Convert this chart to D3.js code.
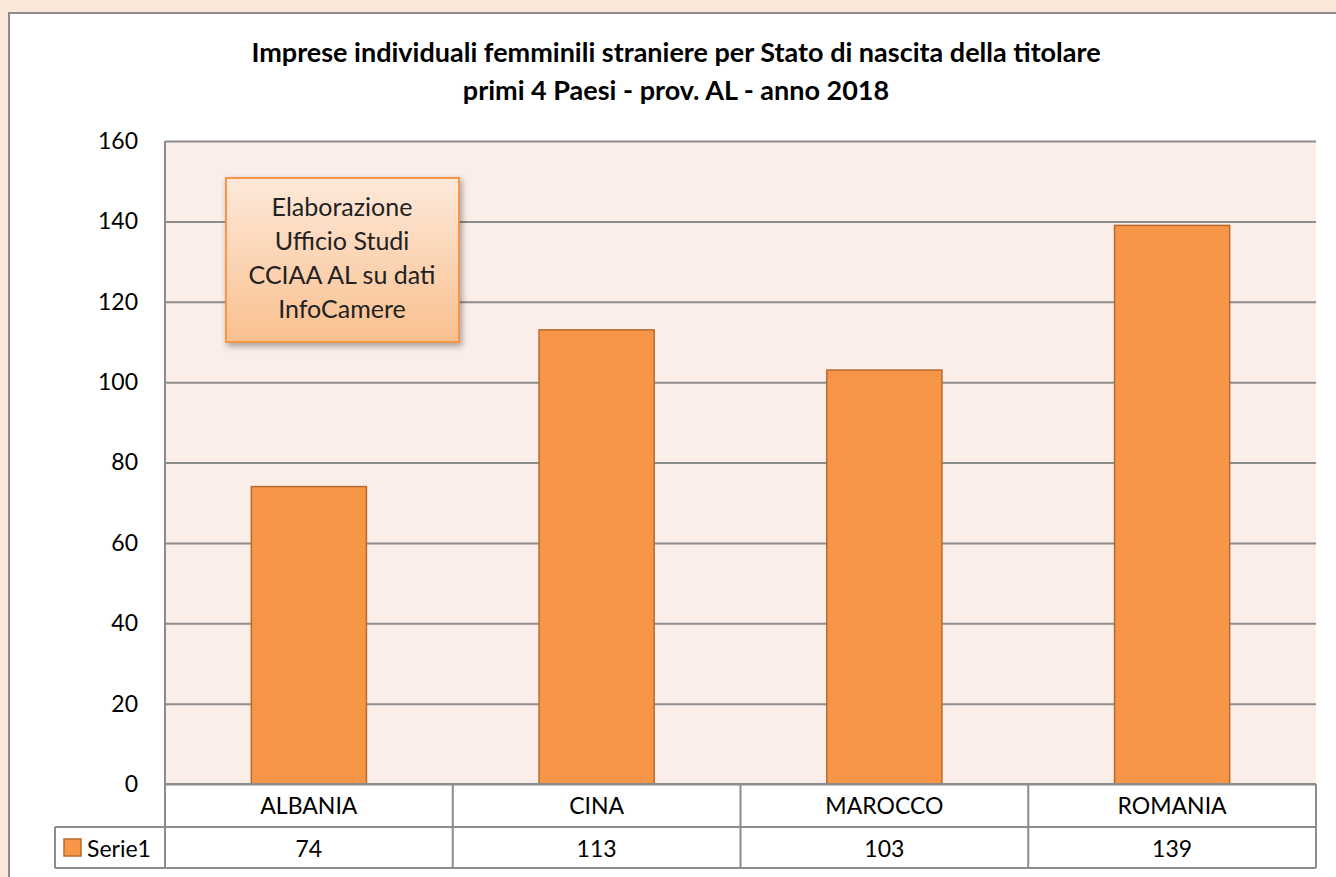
<!DOCTYPE html>
<html>
<head>
<meta charset="utf-8">
<script src="https://cdn.jsdelivr.net/npm/d3@7"></script>
<style>
  html, body { margin: 0; padding: 0; background: #FCE8DB; }
  svg { display: block; font-family: Lato, "Open Sans", sans-serif; }
</style>
</head>
<body>
<script>
// data
var categories = ['ALBANIA', 'CINA', 'MAROCCO', 'ROMANIA'];
var values = [74, 113, 103, 139];
var seriesName = 'Serie1';
var yTicks = [0, 20, 40, 60, 80, 100, 120, 140, 160];
var titleLines = [
  'Imprese individuali femminili straniere per Stato di nascita della titolare',
  'primi 4 Paesi - prov. AL - anno 2018'
];
var noteLines = ['Elaborazione', 'Ufficio Studi', 'CCIAA AL su dati', 'InfoCamere'];

var width = 1336, height = 877;
var plot = { left: 165, right: 1316, top: 141, bottom: 784 };
var rowH = [43, 41];

var svg = d3.select('body').append('svg')
  .attr('width', width)
  .attr('height', height);

var defs = svg.append('defs');
var grad = defs.append('linearGradient')
  .attr('id', 'noteGrad')
  .attr('x1', 0).attr('y1', 0).attr('x2', 0).attr('y2', 1);
grad.append('stop').attr('offset', '0%').attr('stop-color', '#FDE9DA');
grad.append('stop').attr('offset', '100%').attr('stop-color', '#FAC08F');

var shadow = defs.append('filter').attr('id', 'shadow')
  .attr('x', '-10%').attr('y', '-10%').attr('width', '130%').attr('height', '130%');
shadow.append('feDropShadow')
  .attr('dx', 2).attr('dy', 3).attr('stdDeviation', 3)
  .attr('flood-color', '#000').attr('flood-opacity', 0.35);

// chart frame
svg.append('rect')
  .attr('x', 9).attr('y', 13)
  .attr('width', width + 10).attr('height', height + 10)
  .attr('fill', '#fff')
  .attr('stroke', '#8c8c8c')
  .attr('stroke-width', 2);

// title
svg.append('text')
  .attr('text-anchor', 'middle')
  .attr('font-weight', 'bold')
  .attr('font-size', 27)
  .attr('fill', '#000')
  .selectAll('tspan')
  .data(titleLines)
  .join('tspan')
  .attr('x', 676)
  .attr('y', function (d, i) { return 62 + i * 38; })
  .text(function (d) { return d; });

var x = d3.scaleBand()
  .domain(categories)
  .range([plot.left, plot.right])
  .paddingInner(0.6)
  .paddingOuter(0.3);

var xCell = d3.scaleBand()
  .domain(categories)
  .range([plot.left, plot.right]);

var y = d3.scaleLinear()
  .domain([0, 160])
  .range([plot.bottom, plot.top]);

// plot area
svg.append('rect')
  .attr('x', plot.left).attr('y', plot.top)
  .attr('width', plot.right - plot.left)
  .attr('height', plot.bottom - plot.top)
  .attr('fill', '#FBEDE8');

// gridlines + tick labels via axis
var yAxis = svg.append('g')
  .attr('transform', 'translate(' + plot.left + ',0)')
  .call(d3.axisLeft(y)
    .tickValues(yTicks)
    .tickSize(-(plot.right - plot.left))
    .tickPadding(27)
    .tickFormat(d3.format('d')));
yAxis.select('.domain').remove();
yAxis.selectAll('.tick line')
  .attr('stroke', '#8c8c8c')
  .attr('stroke-width', 2);
yAxis.selectAll('.tick text')
  .attr('font-size', 23)
  .attr('fill', '#000')
  .attr('font-family', 'Lato, sans-serif');

// left edge of plot
svg.append('line')
  .attr('x1', plot.left).attr('x2', plot.left)
  .attr('y1', plot.top).attr('y2', plot.bottom)
  .attr('stroke', '#8c8c8c').attr('stroke-width', 2);

// bars
svg.append('g').selectAll('rect')
  .data(values)
  .join('rect')
  .attr('x', function (d, i) { return x(categories[i]); })
  .attr('y', function (d) { return y(d); })
  .attr('width', x.bandwidth())
  .attr('height', function (d) { return y(0) - y(d); })
  .attr('fill', '#F79646')
  .attr('stroke', '#B86A2E')
  .attr('stroke-width', 1.5);

// note box
var note = svg.append('g');
note.append('rect')
  .attr('x', 226).attr('y', 178)
  .attr('width', 233).attr('height', 164)
  .attr('fill', 'url(#noteGrad)')
  .attr('stroke', '#F79646')
  .attr('stroke-width', 2)
  .attr('filter', 'url(#shadow)');
note.append('text')
  .attr('text-anchor', 'middle')
  .attr('font-size', 25)
  .attr('fill', '#222')
  .selectAll('tspan')
  .data(noteLines)
  .join('tspan')
  .attr('x', 342)
  .attr('y', function (d, i) { return 216 + i * 34; })
  .text(function (d) { return d; });

// data table
var table = svg.append('g');
var lineColor = '#8c8c8c';
var row1 = plot.bottom + rowH[0];
var row2 = row1 + rowH[1];

// horizontal lines
table.append('line')
  .attr('x1', plot.left).attr('x2', plot.right)
  .attr('y1', plot.bottom).attr('y2', plot.bottom)
  .attr('stroke', lineColor).attr('stroke-width', 2);
[row1, row2].forEach(function (ry) {
  table.append('line')
    .attr('x1', 55).attr('x2', plot.right)
    .attr('y1', ry).attr('y2', ry)
    .attr('stroke', lineColor).attr('stroke-width', 2);
});

// vertical lines
var vx = categories.map(function (c) { return xCell(c); }).concat([plot.right]);
table.selectAll('line.v')
  .data(vx)
  .join('line')
  .attr('class', 'v')
  .attr('x1', function (d) { return d; })
  .attr('x2', function (d) { return d; })
  .attr('y1', plot.bottom)
  .attr('y2', row2)
  .attr('stroke', lineColor).attr('stroke-width', 2);
table.append('line')
  .attr('x1', 55).attr('x2', 55)
  .attr('y1', row1).attr('y2', row2)
  .attr('stroke', lineColor).attr('stroke-width', 2);

// category labels
table.selectAll('text.cat')
  .data(categories)
  .join('text')
  .attr('class', 'cat')
  .attr('x', function (d) { return xCell(d) + xCell.bandwidth() / 2; })
  .attr('y', plot.bottom + 30)
  .attr('text-anchor', 'middle')
  .attr('font-size', 23)
  .attr('fill', '#000')
  .text(function (d) { return d; });

// value labels
table.selectAll('text.val')
  .data(values)
  .join('text')
  .attr('class', 'val')
  .attr('x', function (d, i) { return xCell(categories[i]) + xCell.bandwidth() / 2; })
  .attr('y', row1 + 30)
  .attr('text-anchor', 'middle')
  .attr('font-size', 23)
  .attr('fill', '#000')
  .text(function (d) { return d; });

// legend key
table.append('rect')
  .attr('x', 64).attr('y', row1 + 12)
  .attr('width', 17).attr('height', 17)
  .attr('fill', '#F79646')
  .attr('stroke', '#B86A2E')
  .attr('stroke-width', 1.5);
table.append('text')
  .attr('x', 87)
  .attr('y', row1 + 30)
  .attr('font-size', 23)
  .attr('fill', '#000')
  .text(seriesName);
</script>
</body>
</html>
